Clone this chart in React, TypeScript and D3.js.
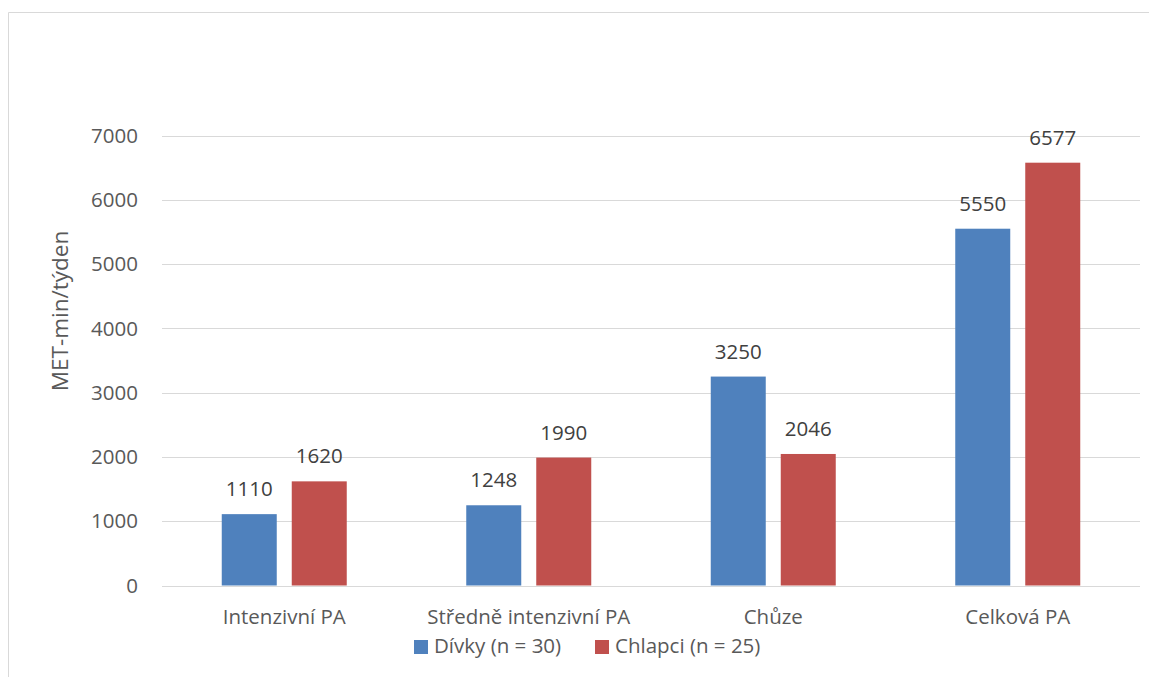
import React from "react";
import * as d3 from "d3";

const categories = ["Intenzivní PA", "Středně intenzivní PA", "Chůze", "Celková PA"];
const divky = [1110, 1248, 3250, 5550];
const chlapci = [1620, 1990, 2046, 6577];
const yTicks = [0, 1000, 2000, 3000, 4000, 5000, 6000, 7000];
const seriesNames = ["Dívky (n = 30)", "Chlapci (n = 25)"];
const seriesColors = ["#4F81BD", "#C0504D"];

const W = 1149;
const H = 677;
const FONT = "'Open Sans', 'Noto Sans', sans-serif";
const FS = 20.5;

export default function App() {
  const plotLeft = 162;
  const plotRight = 1140;
  const y = d3.scaleLinear().domain([0, 7000]).range([585.5, 135.5]);
  const x0 = d3.scaleBand<string>().domain(categories).range([plotLeft, plotRight]).paddingInner(0).paddingOuter(0);
  const barW = 55;
  const gap = 15;
  const series = [divky, chlapci];

  return (
    <svg width={W} height={H} style={{ position: "absolute", left: 0, top: 0, display: "block" }}>
      <rect x={0} y={0} width={W} height={H} fill="#fff" />
      {/* chart frame */}
      <path d={`M8.5,${H + 2} V12.5 H${W + 2}`} fill="none" stroke="#D9D9D9" strokeWidth={1} />
      {/* gridlines */}
      {yTicks.map((t) => (
        <line key={t} x1={plotLeft} x2={plotRight} y1={Math.round(y(t)) + 0.5} y2={Math.round(y(t)) + 0.5} stroke="#D9D9D9" strokeWidth={1} />
      ))}
      {/* y tick labels */}
      {yTicks.map((t) => (
        <text key={"l" + t} x={138} y={y(t)} dy="0.35em" textAnchor="end" fontFamily={FONT} fontSize={FS} fill="#595959">
          {t}
        </text>
      ))}
      <text
        transform={`translate(60,311) rotate(-90)`}
        textAnchor="middle"
        dy="0.35em"
        fontFamily={FONT}
        fontSize={22.5}
        fill="#595959"
      >
        MET-min/týden
      </text>
      {/* bars */}
      {categories.map((c, i) => {
        const cx = (x0(c) as number) + x0.bandwidth() / 2;
        return series.map((s, j) => {
          const bx = j === 0 ? cx - gap / 2 - barW : cx + gap / 2;
          return (
            <g key={c + j}>
              <rect x={bx} y={y(s[i])} width={barW} height={y(0) - y(s[i])} fill={seriesColors[j]} />
              <text x={bx + barW / 2} y={y(s[i]) - 18} textAnchor="middle" fontFamily={FONT} fontSize={FS} fill="#404040">
                {s[i]}
              </text>
            </g>
          );
        });
      })}
      {/* category labels */}
      {categories.map((c) => (
        <text key={"c" + c} x={(x0(c) as number) + x0.bandwidth() / 2} y={624} textAnchor="middle" fontFamily={FONT} fontSize={FS} fill="#595959">
          {c}
        </text>
      ))}
      {/* legend */}
      <rect x={414} y={640} width={14} height={14} fill={seriesColors[0]} />
      <text x={434} y={653} fontFamily={FONT} fontSize={FS} fill="#595959">{seriesNames[0]}</text>
      <rect x={595} y={640} width={14} height={14} fill={seriesColors[1]} />
      <text x={615} y={653} fontFamily={FONT} fontSize={FS} fill="#595959">{seriesNames[1]}</text>
    </svg>
  );
}
